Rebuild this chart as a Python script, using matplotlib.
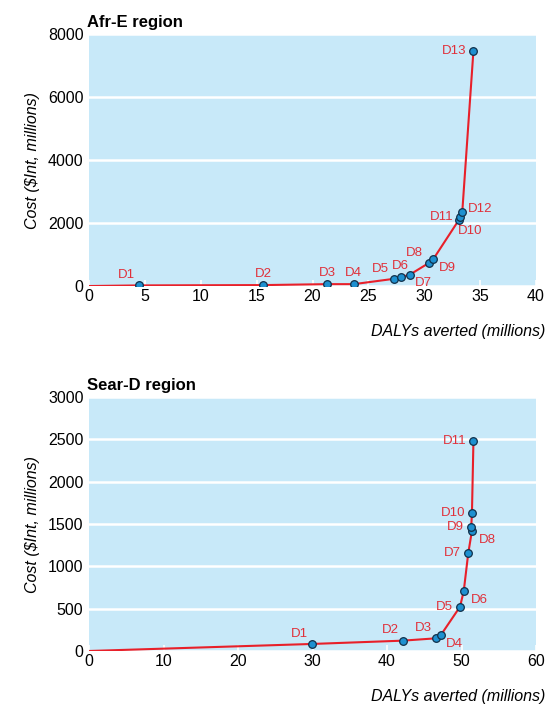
import matplotlib
matplotlib.use('Agg')
import matplotlib.pyplot as plt
from matplotlib import font_manager

# === Data ===
afr_labels = ['D1', 'D2', 'D3', 'D4', 'D5', 'D6', 'D7', 'D8', 'D9', 'D10', 'D11', 'D12', 'D13']
afr_dalys = [4.5, 15.6, 21.3, 23.7, 27.3, 27.9, 28.7, 30.4, 30.8, 33.1, 33.2, 33.4, 34.4]
afr_cost = [20, 30, 60, 60, 230, 280, 360, 730, 850, 2100, 2200, 2350, 7470]
# label offsets in points (dx, dy) and alignment
afr_offsets = [(-3, 3, 'right', 'bottom'), (0, 4, 'center', 'bottom'), (0, 4, 'center', 'bottom'),
               (0, 4, 'center', 'bottom'), (-4, 3, 'right', 'bottom'), (0, 4, 'center', 'bottom'),
               (4, -2, 'left', 'top'), (-4, 3, 'right', 'bottom'), (4, -2, 'left', 'top'),
               (-1, -4, 'left', 'top'), (-5, 0, 'right', 'center'), (4, 2, 'left', 'center'),
               (-5, 0, 'right', 'center')]

sear_labels = ['D1', 'D2', 'D3', 'D4', 'D5', 'D6', 'D7', 'D8', 'D9', 'D10', 'D11']
sear_dalys = [29.9, 42.1, 46.6, 47.2, 49.8, 50.3, 50.9, 51.4, 51.3, 51.4, 51.6]
sear_cost = [83, 122, 150, 185, 523, 708, 1153, 1420, 1460, 1630, 2480]
sear_offsets = [(-3, 3, 'right', 'bottom'), (-3, 3, 'right', 'bottom'), (-3, 3, 'right', 'bottom'),
                (4, -2, 'left', 'top'), (-5, 0, 'right', 'center'), (5, -2, 'left', 'top'),
                (-5, 0, 'right', 'center'), (5, -2, 'left', 'top'), (-5, 0, 'right', 'center'),
                (-5, 0, 'right', 'center'), (-5, 0, 'right', 'center')]

names = [f.name for f in font_manager.fontManager.ttflist]
font = 'Liberation Sans Narrow' if 'Liberation Sans Narrow' in names else 'Liberation Sans'
plt.rcParams['font.family'] = [font, 'DejaVu Sans']

bg = '#c8e9f9'
line_red = '#e8202a'
label_red = '#e0303a'
marker_blue = '#1e90d0'


def draw(ax, dalys, cost, labels, offsets, xmax, ymax, yticks, title):
    ax.set_facecolor(bg)
    for s in ax.spines.values():
        s.set_visible(False)
    ax.plot([0] + dalys, [0] + cost, color=line_red, lw=1.5, zorder=3)
    ax.plot(dalys, cost, 'o', ms=5.5, mfc=marker_blue, mec='#10304a', mew=0.9, zorder=4)
    for x, y, lab, (dx, dy, ha, va) in zip(dalys, cost, labels, offsets):
        ax.annotate(lab, (x, y), xytext=(dx, dy), textcoords='offset points',
                    ha=ha, va=va, color=label_red, fontsize=9.5, zorder=5)
    ax.set_xlim(0, xmax)
    ax.set_ylim(0, ymax)
    ax.set_yticks(yticks)
    ax.yaxis.grid(True, color='white', lw=1.8)
    ax.set_axisbelow(True)
    ax.tick_params(axis='both', labelsize=11.5, length=0, pad=4)
    ax.tick_params(axis='x', direction='in', length=4, color='white', width=1.2, pad=2)
    ax.set_ylabel('Cost ($Int, millions)', fontsize=11.5, style='italic', labelpad=6)
    ax.set_xlabel('DALYs averted (millions)', fontsize=11.5, style='italic')
    ax.xaxis.set_label_coords(1.02, -0.15)
    ax.xaxis.label.set_horizontalalignment('right')
    ax.set_title(title, loc='left', fontsize=12, fontweight='bold', pad=5, x=-0.005)


fig = plt.figure(figsize=(5.55, 7.11), dpi=100)
ax1 = fig.add_axes([0.1604, 0.5977, 0.8054, 0.3544])
ax2 = fig.add_axes([0.1604, 0.0844, 0.8054, 0.3572])

draw(ax1, afr_dalys, afr_cost, afr_labels, afr_offsets, 40, 8000,
     [0, 2000, 4000, 6000, 8000], 'Afr-E region')
draw(ax2, sear_dalys, sear_cost, sear_labels, sear_offsets, 60, 3000,
     [0, 500, 1000, 1500, 2000, 2500, 3000], 'Sear-D region')

fig.savefig('out.png', dpi=100)
